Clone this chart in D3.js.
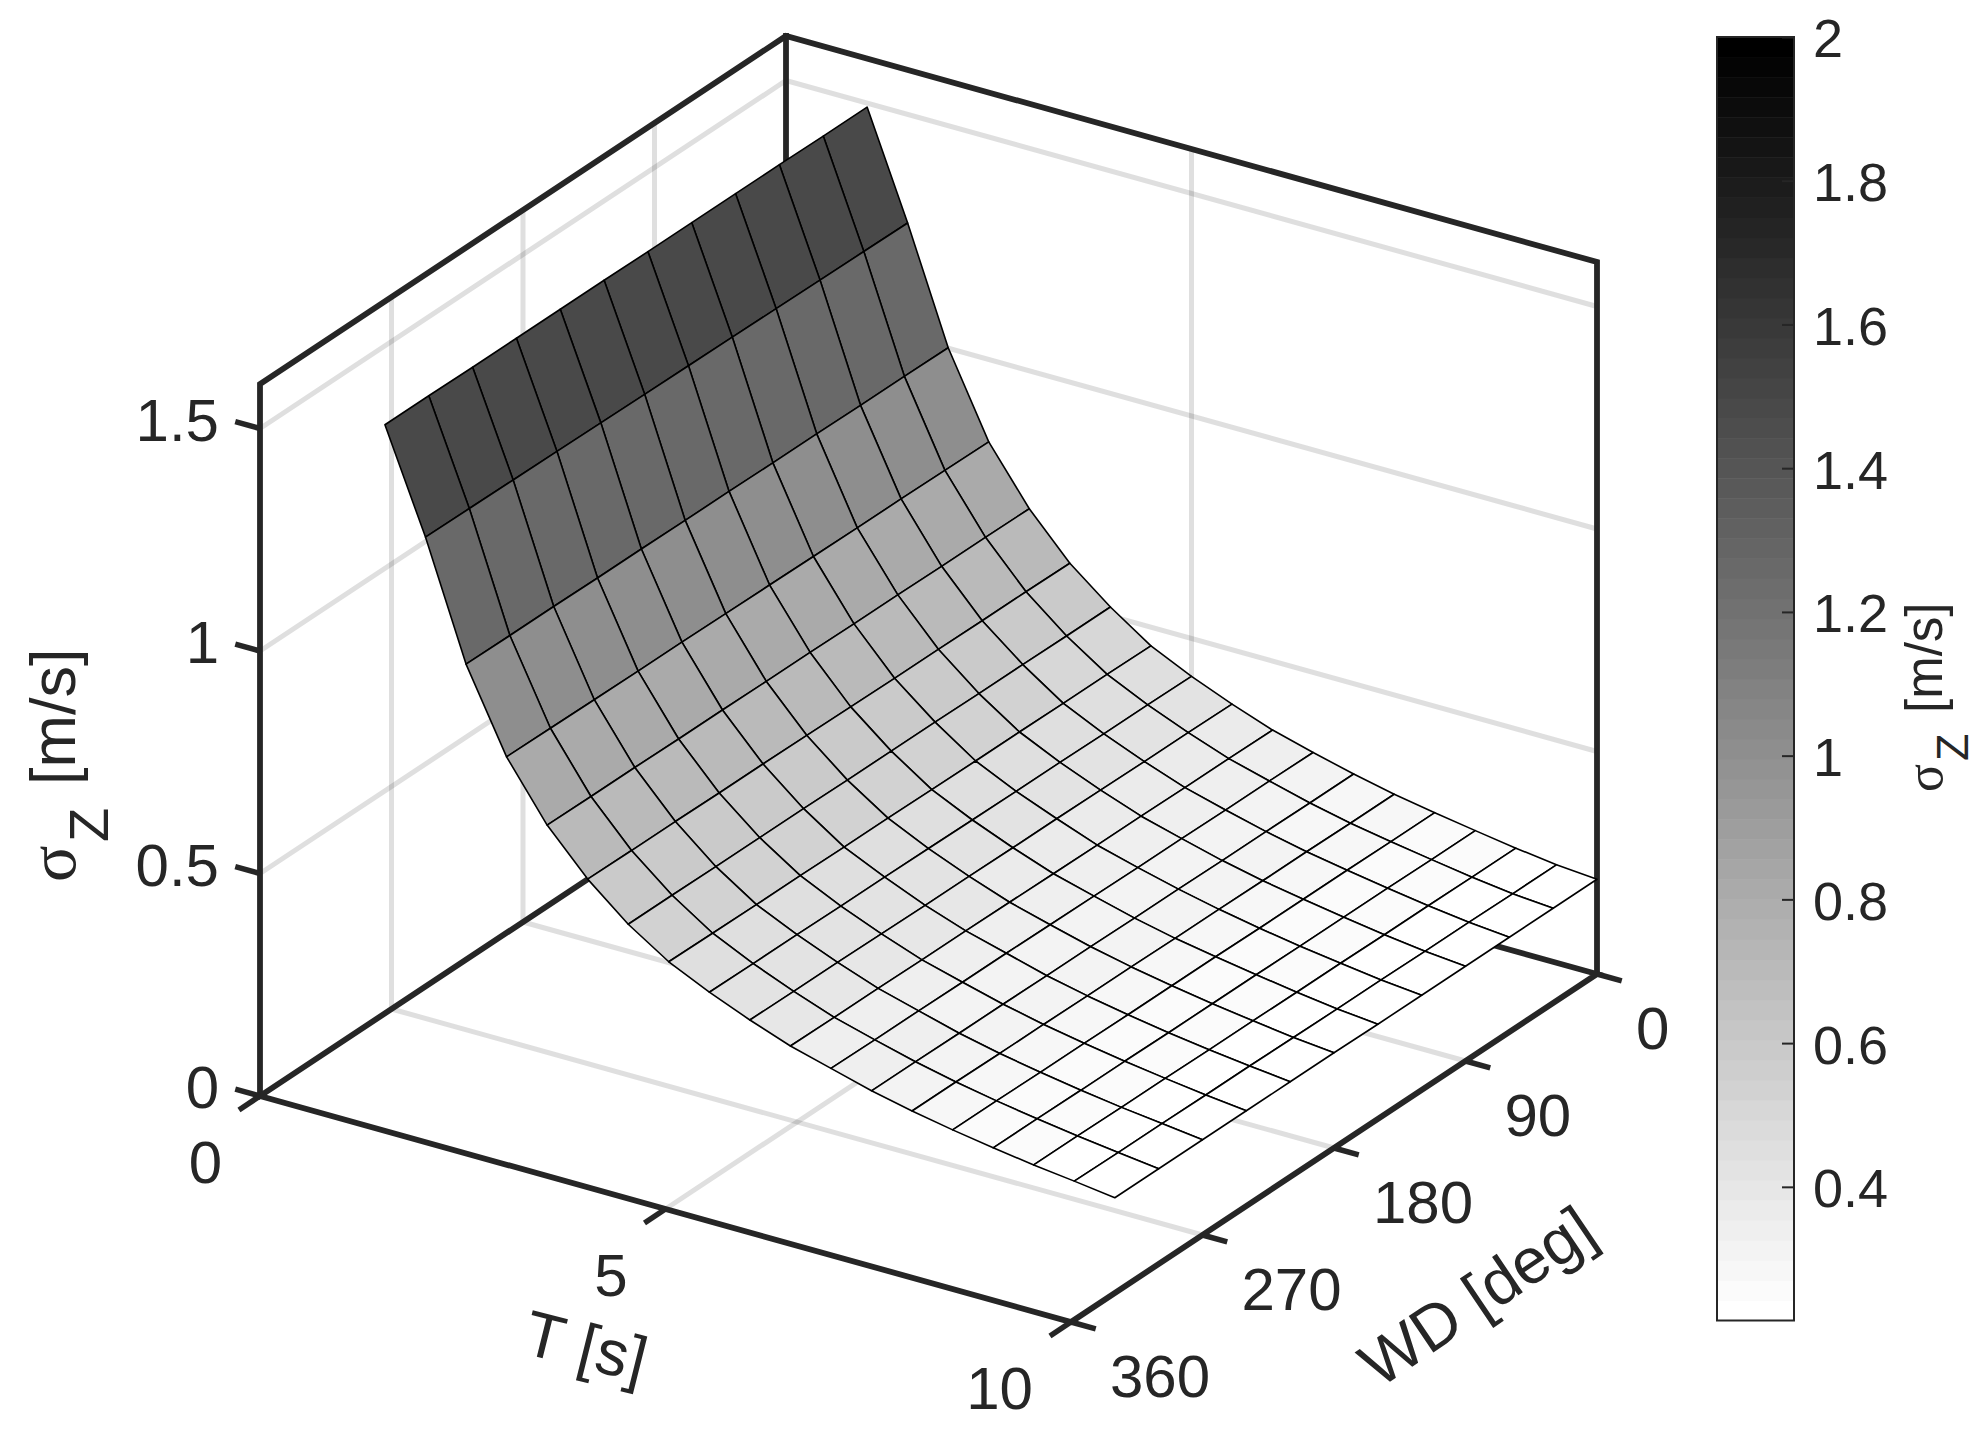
<!DOCTYPE html>
<html>
<head>
<meta charset="utf-8">
<script src="https://cdn.jsdelivr.net/npm/d3@7"></script>
<style>
html,body{margin:0;padding:0;background:#fff}
svg{display:block}
text{font-family:"Liberation Sans",Arial,sans-serif;fill:#262626}
.sym{font-family:"Liberation Serif",serif}
</style>
</head>
<body>
<svg id="chart" width="1983" height="1439" viewBox="0 0 1983 1439"></svg>
<script>
// ---- data ----
const periods = [1,1.5,2,2.5,3,3.5,4,4.5,5,5.5,6,6.5,7,7.5,8,8.5,9,9.5,10];
const waveDirections = [0,30,60,90,120,150,180,210,240,270,300,330];
const sigmaZ = [
  [1.491,1.491,1.492,1.492,1.492,1.492,1.493,1.493,1.493,1.493,1.494,1.494],
  [1.256,1.257,1.258,1.259,1.260,1.261,1.262,1.263,1.264,1.265,1.266,1.267],
  [1.001,1.002,1.002,1.003,1.003,1.004,1.004,1.005,1.005,1.006,1.006,1.007],
  [.815,.816,.817,.817,.818,.819,.820,.821,.821,.822,.823,.824],
  [.690,.691,.691,.692,.692,.693,.693,.694,.694,.695,.695,.696],
  [.593,.594,.594,.595,.595,.596,.597,.598,.598,.599,.599,.600],
  [.520,.520,.521,.521,.522,.522,.522,.523,.523,.523,.524,.524],
  [.458,.459,.459,.460,.460,.461,.462,.462,.463,.463,.464,.465],
  [.415,.416,.416,.417,.417,.418,.419,.420,.420,.421,.421,.422],
  [.378,.379,.379,.380,.381,.381,.382,.382,.383,.384,.384,.385],
  [.345,.346,.346,.347,.347,.348,.349,.350,.350,.351,.351,.352],
  [.320,.321,.321,.322,.322,.323,.324,.325,.325,.326,.326,.327],
  [.297,.297,.298,.298,.299,.299,.300,.300,.301,.301,.302,.302],
  [.277,.277,.278,.278,.279,.279,.280,.280,.281,.281,.282,.282],
  [.261,.261,.262,.262,.262,.263,.263,.263,.264,.264,.265,.265],
  [.246,.246,.247,.247,.247,.248,.248,.248,.249,.249,.250,.250],
  [.232,.232,.233,.233,.234,.234,.235,.235,.236,.236,.237,.237],
  [.220,.220,.221,.221,.222,.222,.223,.224,.224,.225,.225,.226],
  [.213,.213,.213,.213,.213,.213,.214,.214,.214,.214,.214,.214]
];
const tTicks = [0,5,10];
const wdTicks = [0,90,180,270,360];
const zTicks = [0,0.5,1,1.5];
const colorTicks = [0.4,0.6,0.8,1,1.2,1.4,1.6,1.8,2];

// ---- scales & orthographic projection ----
const tScale = d3.scaleLinear().domain([0,10]).range([0,1]);
const wdScale = d3.scaleLinear().domain([360,0]).range([0,1]);
const zScale = d3.scaleLinear().domain([0,1.6]).range([0,1]);
const origin = {x:260,y:1096}, vT = {x:811,y:226}, vW = {x:526,y:-348}, vZ = {x:0,y:-712};
function project(t,w,z){
  const a=tScale(t), b=wdScale(w), c=zScale(z);
  return [origin.x+a*vT.x+b*vW.x+c*vZ.x, origin.y+a*vT.y+b*vW.y+c*vZ.y];
}
const line = d3.line();
const INK = "#262626";
const svg = d3.select("#chart");
svg.append("rect").attr("width",1983).attr("height",1439).attr("fill","#fff");

// ---- colour map (64-step reversed gray) ----
const colorMin = 0.214, colorMax = 2;
const grayLevels = d3.range(64).map(i=>{const g=Math.round(255*(63-i)/63);return `rgb(${g},${g},${g})`;});
const color = d3.scaleQuantize().domain([colorMin,colorMax]).range(grayLevels);

// ---- grid ----
const grid = svg.append("g").attr("fill","none").attr("stroke","rgba(38,38,38,0.15)").attr("stroke-width",5);
const zMax = zScale.domain()[1];
zTicks.filter(z=>z>0).forEach(z=>{
  grid.append("path").attr("d",line([project(0,360,z),project(0,0,z),project(10,0,z)]));
});
wdTicks.filter(w=>w>0&&w<360).forEach(w=>{
  grid.append("path").attr("d",line([project(10,w,0),project(0,w,0),project(0,w,zMax)]));
});
tTicks.filter(t=>t>0&&t<10).forEach(t=>{
  grid.append("path").attr("d",line([project(t,360,0),project(t,0,0),project(t,0,zMax)]));
});

// ---- box ----
const box = svg.append("g").attr("fill","none").attr("stroke",INK).attr("stroke-width",5.8).attr("stroke-linecap","square");
box.append("path").attr("d",line([project(0,360,0),project(0,360,zMax),project(0,0,zMax),project(10,0,zMax),project(10,0,0)]));
box.append("path").attr("d",line([project(0,0,0),project(0,0,zMax)]));
box.append("path").attr("d",line([project(0,360,0),project(10,360,0),project(10,0,0),project(0,0,0),project(0,360,0)]));

// ---- ticks ----
const ticks = svg.append("g").attr("fill","none").attr("stroke",INK).attr("stroke-width",5.5);
const tickLen = 0.0305;
function seg(p,dx,dy){return line([p,[p[0]+dx,p[1]+dy]]);}
zTicks.forEach(z=>ticks.append("path").attr("d",seg(project(0,360,z),-vT.x*tickLen,-vT.y*tickLen)));
tTicks.forEach(t=>ticks.append("path").attr("d",seg(project(t,360,0),-vW.x*0.04,-vW.y*0.04)));
wdTicks.forEach(w=>ticks.append("path").attr("d",seg(project(10,w,0),vT.x*tickLen,vT.y*tickLen)));

// ---- surface ----
const surf = svg.append("g").attr("stroke","#000").attr("stroke-width",1.6).attr("stroke-linejoin","round");
d3.range(periods.length-1).forEach(i=>{
  d3.range(waveDirections.length-1).forEach(j=>{
    const t0=periods[i],t1=periods[i+1],w0=waveDirections[j],w1=waveDirections[j+1];
    surf.append("path")
      .attr("d",line([project(t0,w0,sigmaZ[i][j]),project(t0,w1,sigmaZ[i][j+1]),project(t1,w1,sigmaZ[i+1][j+1]),project(t1,w0,sigmaZ[i+1][j])])+"Z")
      .attr("fill",color(sigmaZ[i][j]));
  });
});

// ---- tick labels ----
const labels = svg.append("g").attr("font-size",60);
zTicks.forEach(z=>{const p=project(0,360,z);
  labels.append("text").attr("x",p[0]-41).attr("y",p[1]-9).attr("dy","0.358em").attr("text-anchor","end").text(z);});
tTicks.forEach(t=>{const p=project(t,360,0);
  labels.append("text").attr("x",p[0]-38).attr("y",p[1]+66).attr("dy","0.358em").attr("text-anchor","end").text(t);});
wdTicks.forEach(w=>{const p=project(10,w,0);
  labels.append("text").attr("x",p[0]+39).attr("y",p[1]+54).attr("dy","0.358em").text(w);});

// ---- axis titles ----
svg.append("text").attr("transform","translate(586,1346) rotate(14)").attr("text-anchor","middle").attr("dy","0.35em").attr("font-size",64).text("T [s]");
svg.append("text").attr("transform","translate(1477,1296) rotate(-34)").attr("text-anchor","middle").attr("dy","0.35em").attr("font-size",64).text("WD [deg]");
function sigmaTitle(x,y,fs,sigmaFs,zFs,zX,zDy,unitX){
  const t=svg.append("text").attr("transform",`translate(${x},${y}) rotate(-90)`).attr("font-size",fs);
  t.append("tspan").attr("class","sym").attr("font-size",sigmaFs).attr("x",0).text("σ");
  t.append("tspan").attr("font-size",zFs).attr("x",zX).attr("dy",zDy).text("Z");
  t.append("tspan").attr("x",unitX).attr("dy",-zDy).text("[m/s]");
}
sigmaTitle(75,882,63,68,56,40,33,97);
sigmaTitle(1942,792,51,52,45,31,26,79);

// ---- colour bar ----
const barX=1717, barW=77;
const barScale = d3.scaleLinear().domain([colorMin,colorMax]).range([1320.5,37]);
const cbar = svg.append("g");
grayLevels.forEach((c,i)=>{
  const v0=colorMin+(colorMax-colorMin)*i/64, v1=colorMin+(colorMax-colorMin)*(i+1)/64;
  cbar.append("rect").attr("x",barX).attr("width",barW).attr("y",barScale(v1)).attr("height",barScale(v0)-barScale(v1)+0.5).attr("fill",c);
});
cbar.append("rect").attr("x",barX).attr("y",37).attr("width",barW).attr("height",1283.5).attr("fill","none").attr("stroke",INK).attr("stroke-width",2);
const axisG = svg.append("g").attr("transform",`translate(${barX+barW},0)`)
  .call(d3.axisRight(barScale).tickValues(colorTicks).tickSize(-12).tickPadding(19).tickFormat(d=>+d));
axisG.select(".domain").remove();
axisG.selectAll("line").attr("stroke",INK).attr("stroke-width",2);
axisG.selectAll("text").attr("font-size",54).attr("font-family",'"Liberation Sans",Arial,sans-serif').attr("fill",INK).attr("dy","0.37em");
</script>
</body>
</html>
